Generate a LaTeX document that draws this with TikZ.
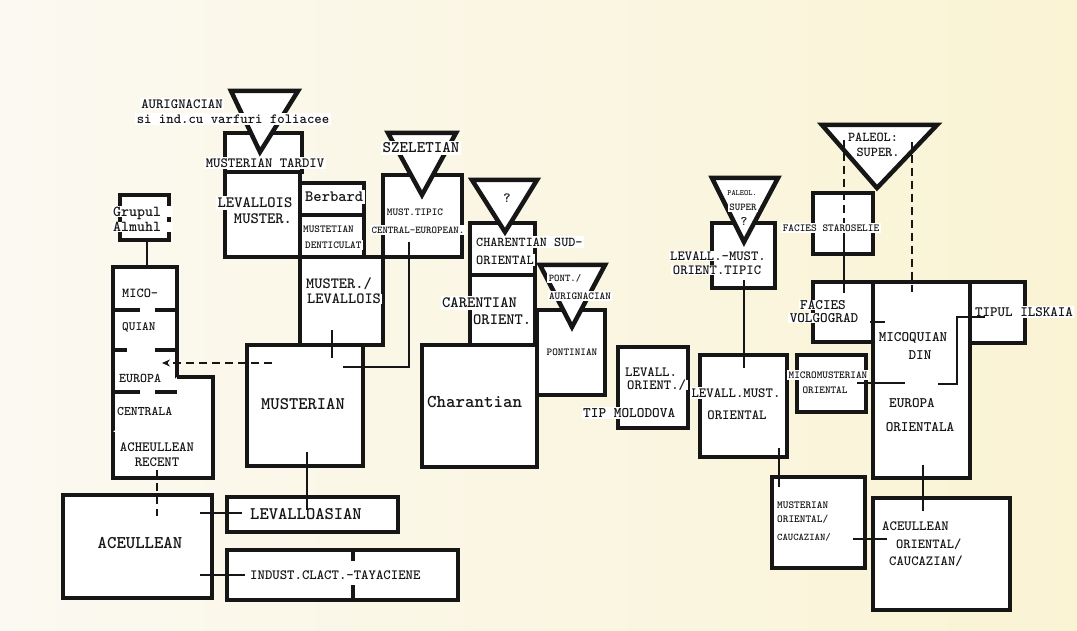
\documentclass[tikz,border=0pt]{standalone}
\usetikzlibrary{arrows.meta}
\definecolor{ink}{RGB}{22,22,22}
\definecolor{paperL}{RGB}{251,249,241}
\definecolor{paperR}{RGB}{250,243,212}
\newcommand\mkbox[5]{\node[box, anchor=north west, minimum width={(#4-#2)*1pt}, minimum height={(#5-#3)*1pt}] (#1) at (#2,#3) {};}
\begin{document}
\begin{tikzpicture}[x=1pt,y=-1pt,
  box/.style={draw=ink, line width=4.5pt, fill=white, rectangle, inner sep=0pt, outer sep=0pt},
  tri/.style={draw=ink, fill=white, line width=4.5pt, line join=miter},
  thk/.style={draw=ink, line width=4.5pt},
  conn/.style={draw=ink, line width=2pt},
  dconn/.style={conn, dash pattern=on 8pt off 5pt},
  lbl/.style={font=\ttfamily\bfseries\fontsize{#1}{#1}\selectfont, text=ink, fill=white, inner xsep=1.5pt, inner ysep=2pt, text height={0.61*#1pt}, text depth=0pt},
  lbn/.style={lbl=#1, fill=none},
  tight/.style={inner ysep=0.4pt}
]
\fill[left color=paperL, right color=paperR] (0,0) rectangle (1077,631);
\useasboundingbox (0,0) rectangle (1077,631);

% ---------- boxes ----------
\mkbox{grupul}{120}{195}{169}{240}
\mkbox{mico}{113}{267}{177}{432}
\filldraw[thk, fill=white] (177,377) -- (213,377) -- (213,478) -- (113,478) -- (113,432);
\mkbox{aceul}{63}{495}{212}{598}
\mkbox{levasian}{227}{497}{398}{532}
\mkbox{indust}{227}{550}{458}{600}
\mkbox{tardiv}{225}{133}{302}{172}
\mkbox{levmust}{225}{172}{300}{257}
\mkbox{berbarq}{300}{183}{364}{257}
\mkbox{musttipic}{383}{175}{462}{257}
\mkbox{musterlev}{300}{257}{383}{345}
\mkbox{musterian}{247}{345}{363}{466}
\mkbox{charsud}{470}{223}{535}{345}
\mkbox{charant}{422}{345}{537}{467}
\mkbox{pontin}{537}{310}{605}{395}
\mkbox{molodova}{618}{347}{688}{428}
\mkbox{levtipic}{712}{223}{775}{288}
\mkbox{levor}{700}{355}{787}{457}
\mkbox{musor}{772}{477}{865}{568}
\mkbox{aceor}{873}{498}{1010}{610}
\mkbox{micor}{873}{282}{970}{478}
\mkbox{volgo}{813}{282}{873}{342}
\mkbox{ilsk}{970}{282}{1025}{343}
\mkbox{starosel}{813}{193}{873}{254}
\mkbox{micromus}{797}{355}{866}{412}

% ---------- dividers ----------
\draw[thk] (113,310) -- (140,310) (155,310) -- (177,310);
\draw[thk] (113,350) -- (127,350) (155,350) -- (177,350);
\draw[thk] (113,392) -- (140,392) (155,392) -- (177,392);
\draw[thk] (300,215) -- (364,215);
\draw[thk] (470,275) -- (535,275);
\draw[thk] (353,550) -- (353,561) (353,585) -- (353,600);

% ---------- triangles ----------
\filldraw[tri] (231,91) -- (298,91) -- (260,152) -- cycle;
\filldraw[tri] (388,133) -- (456,133) -- (422,195) -- cycle;
\filldraw[tri] (472,180) -- (537,180) -- (505,232) -- cycle;
\filldraw[tri] (540,265) -- (605,265) -- (572,327) -- cycle;
\filldraw[tri] (712,178) -- (778,178) -- (744,242) -- cycle;
\filldraw[tri] (822,125) -- (937,125) -- (877,188) -- cycle;

% ---------- connector end points ----------
\coordinate (g1) at (147,240); \coordinate (g2) at (147,267);
\coordinate (r1) at (157,470); \coordinate (r2) at (157,516);
\coordinate (a1) at (200,513); \coordinate (a2) at (242,513);
\coordinate (a3) at (200,575); \coordinate (a4) at (245,575);
\coordinate (m1) at (307,452); \coordinate (m2) at (307,510);
\coordinate (d1) at (272,363); \coordinate (d2) at (162,363);
\coordinate (l1) at (332,330); \coordinate (l2) at (332,358);
\coordinate (t1) at (409,242); \coordinate (t2) at (409,367); \coordinate (t3) at (343,367);
\coordinate (p1) at (744,280); \coordinate (p2) at (744,368);
\coordinate (o1) at (779,448); \coordinate (o2) at (779,487);
\coordinate (c1) at (853,539); \coordinate (c2) at (887,539);
\coordinate (e1) at (923,465); \coordinate (e2) at (923,511);
\coordinate (s1) at (844,140); \coordinate (s2) at (844,226); \coordinate (s3) at (844,293);
\coordinate (u1) at (912,142); \coordinate (u2) at (912,292);
\coordinate (v1) at (870,322); \coordinate (v2) at (885,322);
\coordinate (k1) at (857,383); \coordinate (k2) at (905,383);
\coordinate (i1) at (985,317); \coordinate (i2) at (957,317); \coordinate (i3) at (957,384); \coordinate (i4) at (938,384);

\draw[dconn] (s1) -- (s2);
\draw[conn] (s2) -- (s3);
\draw[dconn] (u1) -- (u2);

% ---------- labels ----------
\node[lbl=15.2, tight, anchor=west, text width=58pt, align=left] (grp1) at (111.5,211.5) {Grupul};
\node[lbl=15.2, tight, anchor=west, text width=58pt, align=left] (grp2) at (111.5,227) {Almuhl};
\node[lbn=13.7, anchor=west] (col1) at (120.5,293) {MICO-};
\node[lbn=12.7, anchor=west] (col2) at (120.5,327) {QUIAN};
\node[lbn=13.3, anchor=west] (col3) at (117.5,378) {EUROPA};
\node[lbl=13.1, anchor=west] (col4) at (115.5,412) {CENTRALA};
\node[lbn=14.1] (rec1) at (157,447) {ACHEULLEAN};
\node[lbn=14.1] (rec2) at (157,462) {RECENT};
\node[lbn=17.9] (acl) at (140,543) {ACEULLEAN};
\node[lbl=17.7] (lva) at (306,514) {LEVALLOASIAN};
\node[lbl=14.1, anchor=west] (ind) at (248.5,575) {INDUST.CLACT.-TAYACIENE};
\node[lbn=17.7] (mst) at (303,404) {MUSTERIAN};
\node[lbl=14.1] (aur1) at (182,104) {AURIGNACIAN};
\node[lbl=14.1] (aur2) at (233,119) {si ind.cu varfuri foliacee};
\node[lbl=14.1] (tard) at (265,163) {MUSTERIAN TARDIV};
\node[lbl=15.8] (lev1) at (255,203) {LEVALLOIS};
\node[lbl=15.8] (lev2) at (263,219) {MUSTER.};
\node[lbl=15.8, anchor=west] (berb) at (303.5,197) {Berbard};
\node[lbl=10.7, anchor=west] (den1) at (301.5,229) {MUSTETIAN};
\node[lbl=10.7, anchor=west] (den2) at (303.5,245) {DENTICULAT};
\node[lbl=15.6, tight, anchor=west] (ml1) at (304.5,283.5) {MUSTER./};
\node[lbl=15.6, tight, anchor=west] (ml2) at (305.5,299) {LEVALLOIS};
\node[lbl=16.2] (szel) at (421,148) {SZELETIAN};
\node[lbl=10.7] (mt1) at (415,212) {MUST.TIPIC};
\node[lbl=10.4] (mt2) at (418,230) {CENTRAL-EUROPEAN.};
\node[lbn=14] (qm1) at (507,198) {?};
\node[lbl=13.5, anchor=west] (ch1) at (474.5,242) {CHARENTIAN SUD-};
\node[lbl=13.7, anchor=west] (ch2) at (474.5,260) {ORIENTAL};
\node[lbl=15.8, anchor=west] (car1) at (440.5,303) {CARENTIAN};
\node[lbl=15.8, anchor=west] (car2) at (471.5,320) {ORIENT.};
\node[lbn=18.1, anchor=west] (chr) at (425.5,402) {Charantian};
\node[lbl=10.3] (pt1) at (565,278) {PONT./};
\node[lbl=10.7] (pt2) at (580,296) {AURIGNACIAN};
\node[lbn=10.7] (ptn) at (572,352) {PONTINIAN};
\node[lbl=14.1, tight, anchor=west] (lo1) at (623.5,372) {LEVALL.};
\node[lbl=14, tight, anchor=west] (lo2) at (625.5,385) {ORIENT./};
\node[lbl=14.6, anchor=west] (lo3) at (581.5,413) {TIP MOLODOVA};
\node[lbl=8] (ps1) at (742,193) {PALEOL.};
\node[lbl=10.4] (ps2) at (743,207) {SUPER};
\node[lbn=13] (ps3) at (744,222) {?};
\node[lbl=14, tight] (lm1) at (718,256) {LEVALL.-MUST.};
\node[lbl=14, tight] (lm2) at (717,270) {ORIENT.TIPIC};
\node[lbl=14.1] (lmo1) at (736,393) {LEVALL.MUST.};
\node[lbn=14.1] (lmo2) at (737,415) {ORIENTAL};
\node[lbl=10.8, anchor=west] (mo1) at (775.5,505) {MUSTERIAN};
\node[lbl=10.8, anchor=west] (mo2) at (775.5,519) {ORIENTAL/};
\node[lbl=10.2, anchor=west] (mo3) at (775.5,537) {CAUCAZIAN/};
\node[lbn=14.1, anchor=west] (ao1) at (880.5,526) {ACEULLEAN};
\node[lbn=13.8, anchor=west] (ao2) at (894.5,544) {ORIENTAL/};
\node[lbn=14, anchor=west] (ao3) at (887.5,561) {CAUCAZIAN/};
\node[lbn=14.5] (mic1) at (913,337) {MICOQUIAN};
\node[lbn=14.5] (mic2) at (920,355) {DIN};
\node[lbn=14.5] (mic3) at (912,403) {EUROPA};
\node[lbn=14.5] (mic4) at (920,427) {ORIENTALA};
\node[lbl=14.5, tight] (fv1) at (823,305) {FACIES};
\node[lbl=14.5, tight] (fv2) at (824,318) {VOLGOGRAD};
\node[lbl=14.3, anchor=west] (til) at (973.5,312) {TIPUL ILSKAIA};
\node[lbl=10.8] (fs) at (831,228) {FACIES STAROSELIE};
\node[lbl=13.6] (pal1) at (873,137) {PALEOL:};
\node[lbl=13.6] (pal2) at (878,152) {SUPER.};
\node[lbl=10.7] (mm1) at (828,375) {MICROMUSTERIAN};
\node[lbl=10.7] (mm2) at (825,390) {ORIENTAL};

% ---------- connectors ----------
\draw[conn] (g1) -- (g2);
\draw[dconn] (r1) -- (r2);
\draw[conn] (a1) -- (a2);
\draw[conn] (a3) -- (a4);
\draw[conn] (m1) -- (m2);
\draw[dconn, -{Stealth[length=8pt,width=7pt]}] (d1) -- (d2);
\draw[conn] (l1) -- (l2);
\draw[conn] (t1) -- (t2) -- (t3);
\draw[conn] (p1) -- (p2);
\draw[conn] (o1) -- (o2);
\draw[conn] (c1) -- (c2);
\draw[conn] (e1) -- (e2);
\draw[conn] (v1) -- (v2);
\draw[conn] (k1) -- (k2);
\draw[conn] (i1) -- (i2) -- (i3) -- (i4);
\end{tikzpicture}
\end{document}
